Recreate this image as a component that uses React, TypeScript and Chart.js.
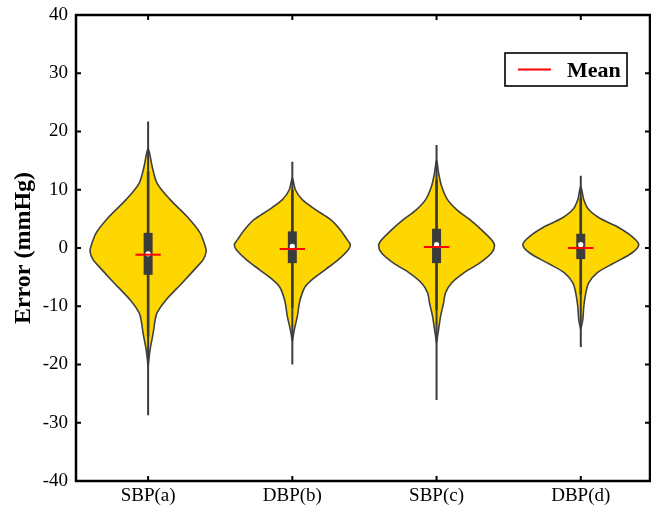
import React, { useEffect, useRef } from "react";
import { Chart, registerables } from "chart.js";

Chart.register(...registerables);

// ---------- data ----------
const categories = ["SBP(a)", "DBP(b)", "SBP(c)", "DBP(d)"];
const meanLabel = "Mean";

const means = [-1.15, -0.17, 0.17, 0.0];
const medians = [-1.0, 0.3, 0.6, 0.57];
const q1 = [-4.6, -2.6, -2.6, -1.9];
const q3 = [2.6, 2.85, 3.3, 2.45];
const whiskerLow = [-15.2, -10.3, -10.6, -8.0];
const whiskerHigh = [13.1, 10.0, 11.7, 8.6];
const minVals = [-28.7, -20.0, -26.1, -17.0];
const maxVals = [21.7, 14.8, 17.7, 12.4];

// kernel density outlines: y values and half-widths (in category units)
const densityYA = [-20.3, -17.4, -14.6, -12.3, -11.1, -8.9, -6.0, -3.2, -2.0, -0.6, 0.3, 2.6, 5.4, 8.3, 11.1, 14.0, 17.1];
const densityWA = [0, 0.014, 0.035, 0.049, 0.0625, 0.125, 0.236, 0.34, 0.382, 0.403, 0.396, 0.36, 0.27, 0.153, 0.0625, 0.028, 0];

const densityYB = [-16.0, -14.0, -11.7, -9.4, -7.7, -6.6, -5.4, -3.7, -2.0, -0.3, 0.6, 1.4, 3.1, 4.9, 6.6, 8.3, 10.0, 12.0];
const densityWB = [0, 0.014, 0.035, 0.049, 0.069, 0.09, 0.139, 0.229, 0.319, 0.388, 0.402, 0.381, 0.333, 0.264, 0.16, 0.069, 0.021, 0];

const densityYC = [-16.3, -14.0, -11.7, -9.4, -7.7, -6.0, -4.3, -2.6, -0.86, 0.4, 1.4, 3.1, 4.9, 6.6, 8.3, 10.6, 12.9, 15.1];
const densityWC = [0, 0.014, 0.028, 0.049, 0.062, 0.104, 0.187, 0.298, 0.381, 0.402, 0.381, 0.312, 0.229, 0.139, 0.076, 0.035, 0.014, 0];

const densityYD = [-14.0, -12.3, -10.0, -7.7, -6.0, -4.3, -2.6, -0.86, 0.57, 2.0, 3.7, 5.1, 6.6, 8.3, 10.6];
const densityWD = [0, 0.014, 0.021, 0.035, 0.055, 0.111, 0.229, 0.354, 0.402, 0.354, 0.25, 0.132, 0.055, 0.021, 0];

const densityY = [densityYA, densityYB, densityYC, densityYD];
const densityW = [densityWA, densityWB, densityWC, densityWD];

const yMin = -40;
const yMax = 40;
const yStep = 10;
const meanHalfWidth = 0.088;

// ---------- styles ----------
const FONT = "'Liberation Serif', 'Times New Roman', serif";
const VIOLIN_FILL = "#FFD700";
const VIOLIN_EDGE = "#404040";
const BOX_COLOR = "#3b3b3b";
const MEAN_COLOR = "#ff0000";

function outline(center: number, ys: number[], ws: number[]) {
  const right = ys.map((y, i) => ({ x: center + ws[i], y }));
  const left = ys
    .map((y, i) => ({ x: center - ws[i], y }))
    .reverse()
    .slice(1);
  return [...right, ...left];
}

function buildDatasets() {
  const ds: any[] = [];
  categories.forEach((_, i) => {
    const c = i + 1;
    ds.push({
      label: "violin" + i,
      data: outline(c, densityY[i], densityW[i]),
      borderColor: VIOLIN_EDGE,
      borderWidth: 1.6,
      backgroundColor: VIOLIN_FILL,
      fill: "shape",
      tension: 0.3,
      pointRadius: 0,
      order: 10,
    });
    ds.push({
      label: "range" + i,
      data: [
        { x: c, y: minVals[i] },
        { x: c, y: maxVals[i] },
      ],
      borderColor: BOX_COLOR,
      borderWidth: 2,
      fill: false,
      pointRadius: 0,
      borderCapStyle: "butt",
      order: 8,
    });
    ds.push({
      label: "whisker" + i,
      data: [
        { x: c, y: whiskerLow[i] },
        { x: c, y: whiskerHigh[i] },
      ],
      borderColor: BOX_COLOR,
      borderWidth: 2.6,
      fill: false,
      pointRadius: 0,
      borderCapStyle: "butt",
      order: 7,
    });
    ds.push({
      label: "box" + i,
      data: [
        { x: c, y: q1[i] },
        { x: c, y: q3[i] },
      ],
      borderColor: BOX_COLOR,
      borderWidth: 9,
      fill: false,
      pointRadius: 0,
      borderCapStyle: "butt",
      order: 6,
    });
    ds.push({
      label: "median" + i,
      data: [{ x: c, y: medians[i] }],
      showLine: false,
      pointRadius: 2.6,
      pointBorderWidth: 0,
      pointBackgroundColor: "#ffffff",
      order: 5,
    });
    ds.push({
      label: "mean" + i,
      data: [
        { x: c - meanHalfWidth, y: means[i] },
        { x: c + meanHalfWidth, y: means[i] },
      ],
      borderColor: MEAN_COLOR,
      borderWidth: 2,
      fill: false,
      pointRadius: 0,
      borderCapStyle: "butt",
      order: 4,
    });
  });
  return ds;
}

const framePlugin = {
  id: "frameAndLegend",
  afterDraw(chart: any) {
    const { ctx, chartArea: a, scales } = chart;
    const xs = scales.x;
    const ys = scales.y;
    ctx.save();
    ctx.strokeStyle = "#000";
    ctx.lineWidth = 2.5;
    ctx.strokeRect(a.left, a.top, a.right - a.left, a.bottom - a.top);
    ctx.lineWidth = 2;
    const tl = 5;
    const seg = (x1: number, y1: number, x2: number, y2: number) => {
      ctx.beginPath();
      ctx.moveTo(x1, y1);
      ctx.lineTo(x2, y2);
      ctx.stroke();
    };
    ys.ticks.forEach((t: any) => {
      const py = ys.getPixelForValue(t.value);
      seg(a.left, py, a.left + tl, py);
      seg(a.right, py, a.right - tl, py);
    });
    categories.forEach((_, i) => {
      const px = xs.getPixelForValue(i + 1);
      seg(px, a.bottom, px, a.bottom - tl);
      seg(px, a.top, px, a.top + tl);
    });

    // legend
    const lw = 122;
    const lh = 33;
    const lx = a.right - 23 - lw;
    const ly = a.top + 38;
    ctx.lineWidth = 1.6;
    ctx.strokeStyle = "#000";
    ctx.fillStyle = "#fff";
    ctx.fillRect(lx, ly, lw, lh);
    ctx.strokeRect(lx, ly, lw, lh);
    ctx.strokeStyle = MEAN_COLOR;
    ctx.lineWidth = 2;
    seg(lx + 13, ly + lh / 2, lx + 46, ly + lh / 2);
    ctx.fillStyle = "#000";
    ctx.font = "bold 22px " + FONT;
    ctx.textAlign = "left";
    ctx.textBaseline = "alphabetic";
    ctx.fillText(meanLabel, lx + 62, ly + 24);
    ctx.restore();
  },
};

export default function App() {
  const ref = useRef<HTMLCanvasElement | null>(null);
  useEffect(() => {
    document.body.style.margin = "0";
    const canvas = ref.current!;
    const chart = new Chart(canvas, {
      type: "line",
      data: { datasets: buildDatasets() },
      options: {
        animation: false,
        responsive: false,
        devicePixelRatio: 1,
        layout: { autoPadding: false, padding: { top: 15, right: 1, left: 0, bottom: 0 } },
        plugins: {
          legend: { display: false },
          tooltip: { enabled: false },
        },
        elements: { line: { capBezierPoints: false } },
        scales: {
          x: {
            type: "linear",
            min: 0.5,
            max: 4.48,
            grid: { display: false, drawTicks: false },
            border: { display: false },
            afterBuildTicks: (scale: any) => {
              scale.ticks = categories.map((_, i) => ({ value: i + 1 }));
            },
            afterFit: (scale: any) => {
              scale.height = 28;
              scale.paddingLeft = 0;
              scale.paddingRight = 0;
            },
            ticks: {
              padding: 4,
              color: "#000",
              font: { family: FONT, size: 19 },
              maxRotation: 0,
              autoSkip: false,
              callback: (v: any) => categories[Math.round(Number(v)) - 1] ?? "",
            },
          },
          y: {
            type: "linear",
            min: yMin,
            max: yMax,
            grid: { display: false, drawTicks: false },
            border: { display: false },
            afterFit: (scale: any) => {
              scale.width = 76;
              scale.paddingTop = 0;
              scale.paddingBottom = 0;
            },
            ticks: {
              stepSize: yStep,
              padding: 8,
              color: "#000",
              font: { family: FONT, size: 19 },
            },
            title: {
              display: true,
              text: "Error (mmHg)",
              color: "#000",
              font: { family: FONT, size: 24, weight: "bold" },
              padding: { top: 9, bottom: 0 },
            },
          },
        },
      } as any,
      plugins: [framePlugin],
    });
    return () => chart.destroy();
  }, []);
  return (
    <div style={{ width: 651, height: 509 }}>
      <canvas ref={ref} width={651} height={509} style={{ display: "block" }} />
    </div>
  );
}
